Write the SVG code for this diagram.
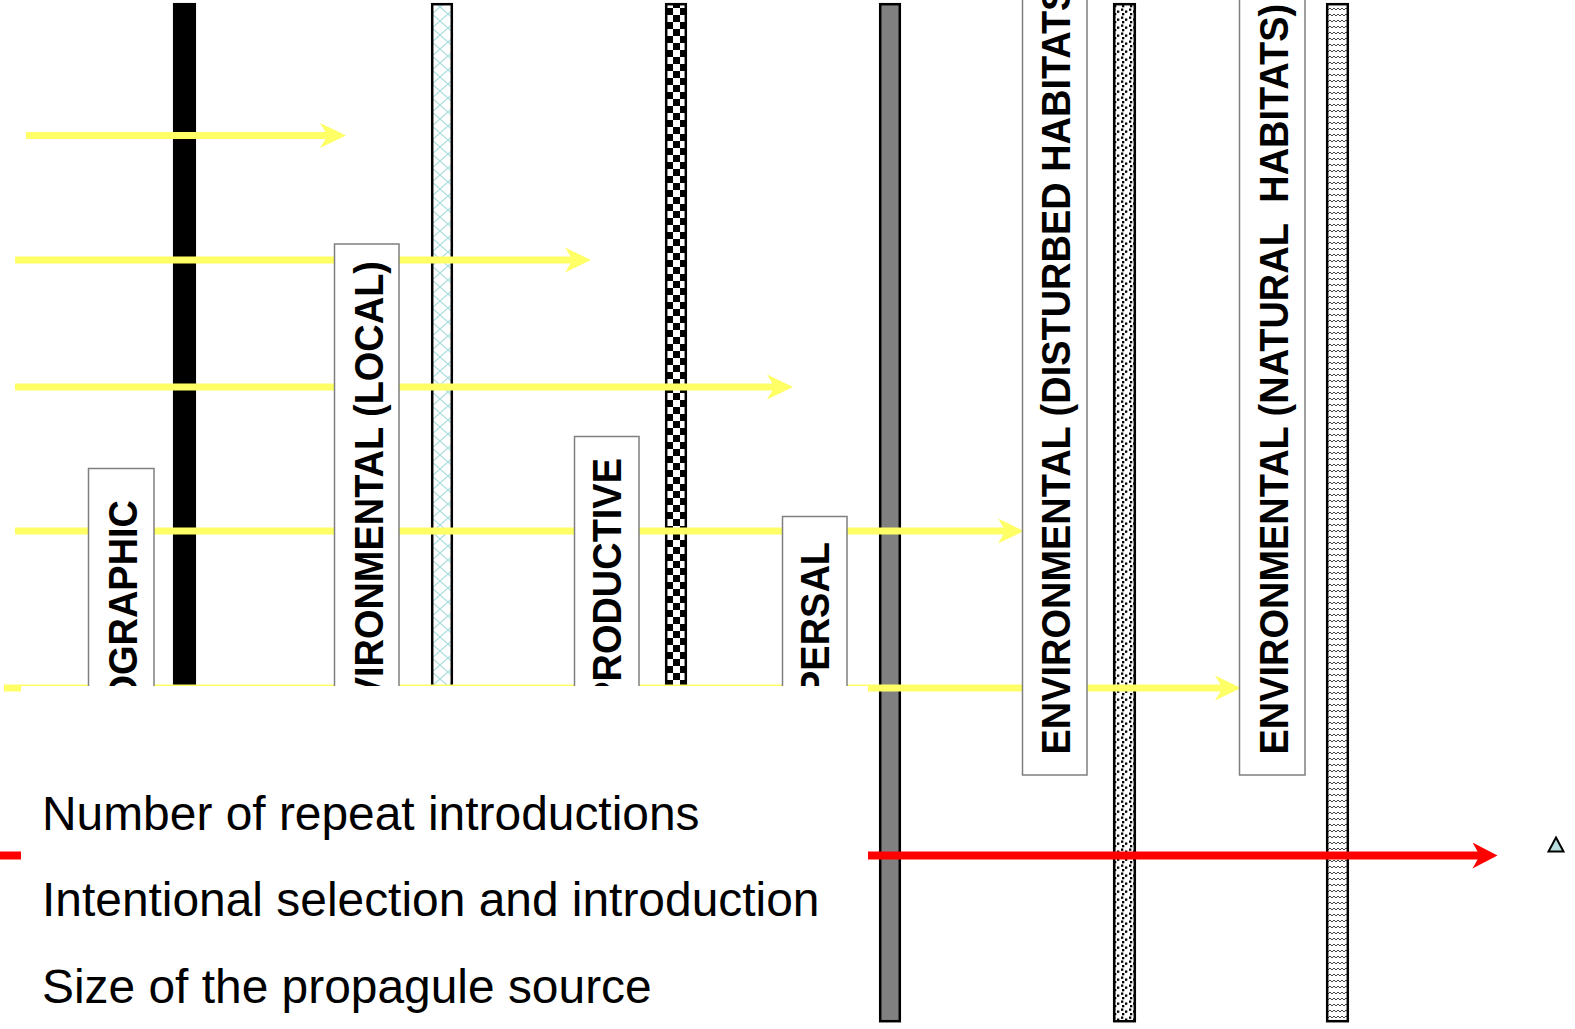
<svg xmlns="http://www.w3.org/2000/svg" width="1575" height="1029" viewBox="0 0 1575 1029">
<style>
.bar{stroke:#000;stroke-width:2.5}
.box{fill:#fff;stroke:#7f7f7f;stroke-width:1.5}
.lbl{font-family:"Liberation Sans",Arial,sans-serif;font-weight:bold;font-size:41px;fill:#000}
.yl{stroke:#FFFF66;stroke-width:7;fill:none}
.rl{stroke:#FF0000;stroke-width:8;fill:none}
.txt{font-family:"Liberation Sans",Arial,sans-serif;font-size:47.9px;fill:#000}
</style>
<defs>
<pattern id="pCross" width="16" height="14" patternUnits="userSpaceOnUse">
<rect width="16" height="14" fill="#fff"/>
<path d="M0,0 L16,14 M16,0 L0,14" stroke="#a8dcdc" stroke-width="1.2" fill="none"/>
</pattern>
<pattern id="pCheck" width="14" height="14" patternUnits="userSpaceOnUse" x="1" y="1">
<rect width="14" height="14" fill="#fff"/>
<rect width="7" height="7" fill="#000"/>
<rect x="7" y="7" width="7" height="7" fill="#000"/>
</pattern>
<pattern id="pDots" width="8" height="8" patternUnits="userSpaceOnUse">
<rect width="8" height="8" fill="#fff"/>
<rect x="1" y="0.5" width="2.3" height="2.3" fill="#000"/>
<rect x="5" y="2.5" width="2.3" height="2.3" fill="#000"/>
<rect x="2" y="5" width="2.3" height="2.3" fill="#000"/>
</pattern>
<pattern id="pWave" width="8" height="6" patternUnits="userSpaceOnUse">
<rect width="8" height="6" fill="#fff"/>
<path d="M0,4 L2,2 L4,4 L6,2 L8,4" stroke="#444" stroke-width="1" fill="none"/>
</pattern>
<marker id="mY" markerUnits="userSpaceOnUse" markerWidth="26" markerHeight="26" viewBox="0 0 24 24" refX="12" refY="12" orient="auto">
<path d="M0,0.5 L24,12 L0,23.5 L7,12 Z" fill="#FFFF66"/>
</marker>
<marker id="mR" markerUnits="userSpaceOnUse" markerWidth="26" markerHeight="26" viewBox="0 0 24 25" refX="12" refY="12.5" orient="auto">
<path d="M0,0 L24,12.5 L0,25 L7,12.5 Z" fill="#FF0000"/>
</marker>
</defs>

<g id="bars">
<rect id="bar-black" class="bar" x="174.2" y="4.2" width="20.6" height="690" fill="#000"/>
<rect id="bar-cross" class="bar" x="432.2" y="4.2" width="19.6" height="690" fill="url(#pCross)"/>
<rect id="bar-check" class="bar" x="666.2" y="4.2" width="19.6" height="690" fill="url(#pCheck)"/>
<rect id="bar-gray" class="bar" x="880.2" y="4.2" width="19.6" height="1017" fill="#808080"/>
<rect id="bar-dots" class="bar" x="1114.2" y="4.2" width="20.6" height="1017" fill="url(#pDots)"/>
<rect id="bar-wave" class="bar" x="1327.2" y="4.2" width="20.6" height="1017" fill="url(#pWave)"/>
</g>

<g id="connectors">
<line class="yl" x1="26" y1="135.5" x2="333" y2="135.5" marker-end="url(#mY)"/>
<line class="yl" x1="15" y1="260" x2="578" y2="260" marker-end="url(#mY)"/>
<line class="yl" x1="15" y1="387" x2="780" y2="387" marker-end="url(#mY)"/>
<line class="yl" x1="15" y1="531" x2="1011" y2="531" marker-end="url(#mY)"/>
<line class="yl" x1="4" y1="688" x2="1228" y2="688" marker-end="url(#mY)"/>
<line class="rl" x1="0" y1="855.5" x2="1485" y2="855.5" marker-end="url(#mR)"/>
</g>

<g id="node-geographic">
<rect class="box" x="88.5" y="468.5" width="65.5" height="303"/>
<text class="lbl" text-anchor="end" transform="translate(136.5,500) rotate(-90) scale(0.926,1)">GEOGRAPHIC</text>
</g>
<g id="node-env-local">
<rect class="box" x="334.5" y="244" width="64.5" height="527"/>
<text class="lbl" text-anchor="end" transform="translate(383,261) rotate(-90) scale(0.926,1)">ENVIRONMENTAL (LOCAL)</text>
</g>
<g id="node-reproductive">
<rect class="box" x="574.5" y="436.5" width="64.5" height="335"/>
<text class="lbl" text-anchor="end" transform="translate(620.5,458) rotate(-90) scale(0.926,1)">REPRODUCTIVE</text>
</g>
<g id="node-dispersal">
<rect class="box" x="782.5" y="516.5" width="64.5" height="255"/>
<text class="lbl" text-anchor="end" transform="translate(828.5,542) rotate(-90) scale(0.926,1)">DISPERSAL</text>
</g>
<g id="node-env-disturbed">
<rect class="box" x="1022.5" y="-10" width="64.5" height="785"/>
<text class="lbl" text-anchor="start" transform="translate(1070,754.5) rotate(-90) scale(0.926,1)">ENVIRONMENTAL (DISTURBED HABITATS)</text>
</g>
<g id="node-env-natural">
<rect class="box" x="1239.5" y="-10" width="65.5" height="785"/>
<text class="lbl" text-anchor="start" xml:space="preserve" style="white-space:pre" transform="translate(1287.5,754.5) rotate(-90) scale(0.926,1)">ENVIRONMENTAL (NATURAL  HABITATS)</text>
</g>

<rect id="cover" x="21" y="686" width="847" height="343" fill="#fff"/>

<g id="legend">
<text class="txt" x="42" y="829.5">Number of repeat introductions</text>
<text class="txt" x="42" y="916">Intentional selection and introduction</text>
<text class="txt" x="42" y="1002.5">Size of the propagule source</text>
</g>

<polygon id="small-triangle" points="1556,837.5 1563.5,851.5 1548.5,851.5" fill="#b8dede" stroke="#000" stroke-width="2"/>
</svg>
